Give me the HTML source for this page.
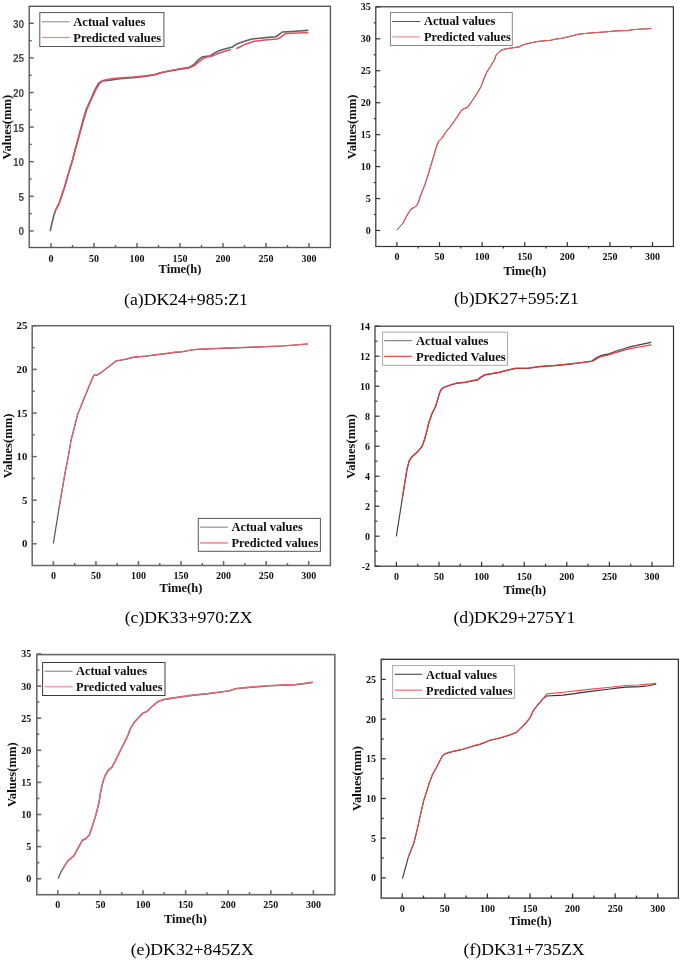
<!DOCTYPE html>
<html><head><meta charset="utf-8"><style>
html,body{margin:0;padding:0;background:#fff;}
svg{display:block;}
text{font-family:"Liberation Serif",serif;fill:#111;}
.ys{font-family:"Liberation Sans",sans-serif;font-size:10px;font-weight:bold;fill:#444;}
.yb{font-weight:bold;font-size:10px;}
.xb{font-weight:bold;font-size:10px;}
.at{font-weight:bold;font-size:12.5px;}
.vt{font-weight:bold;font-size:12.65px;}
.lg{font-weight:bold;font-size:12.55px;}
.cap{font-size:17.7px;fill:#000;}
</style></head>
<body><svg width="685" height="960" viewBox="0 0 685 960">
<defs><filter id="bl" x="0" y="0" width="100%" height="100%"><feGaussianBlur stdDeviation="0.55"/></filter></defs>
<rect width="685" height="960" fill="#fff"/>
<g filter="url(#bl)">
<rect x="29.2" y="6.3" width="301.20" height="241.20" fill="none" stroke="#5a5a5a" stroke-width="1.4"/>
<line x1="29.2" y1="230.90" x2="33.70" y2="230.90" stroke="#5a5a5a" stroke-width="1.4"/>
<text x="24" y="235.40" class="ys" text-anchor="end">0</text>
<line x1="29.2" y1="196.30" x2="33.70" y2="196.30" stroke="#5a5a5a" stroke-width="1.4"/>
<text x="24" y="200.80" class="ys" text-anchor="end">5</text>
<line x1="29.2" y1="161.70" x2="33.70" y2="161.70" stroke="#5a5a5a" stroke-width="1.4"/>
<text x="24" y="166.20" class="ys" text-anchor="end">10</text>
<line x1="29.2" y1="127.10" x2="33.70" y2="127.10" stroke="#5a5a5a" stroke-width="1.4"/>
<text x="24" y="131.60" class="ys" text-anchor="end">15</text>
<line x1="29.2" y1="92.50" x2="33.70" y2="92.50" stroke="#5a5a5a" stroke-width="1.4"/>
<text x="24" y="97.00" class="ys" text-anchor="end">20</text>
<line x1="29.2" y1="57.90" x2="33.70" y2="57.90" stroke="#5a5a5a" stroke-width="1.4"/>
<text x="24" y="62.40" class="ys" text-anchor="end">25</text>
<line x1="29.2" y1="23.30" x2="33.70" y2="23.30" stroke="#5a5a5a" stroke-width="1.4"/>
<text x="24" y="27.80" class="ys" text-anchor="end">30</text>
<line x1="29.2" y1="213.60" x2="31.70" y2="213.60" stroke="#5a5a5a" stroke-width="1.4"/>
<line x1="29.2" y1="179.00" x2="31.70" y2="179.00" stroke="#5a5a5a" stroke-width="1.4"/>
<line x1="29.2" y1="144.40" x2="31.70" y2="144.40" stroke="#5a5a5a" stroke-width="1.4"/>
<line x1="29.2" y1="109.80" x2="31.70" y2="109.80" stroke="#5a5a5a" stroke-width="1.4"/>
<line x1="29.2" y1="75.20" x2="31.70" y2="75.20" stroke="#5a5a5a" stroke-width="1.4"/>
<line x1="29.2" y1="40.60" x2="31.70" y2="40.60" stroke="#5a5a5a" stroke-width="1.4"/>
<line x1="51.00" y1="247.5" x2="51.00" y2="243.00" stroke="#5a5a5a" stroke-width="1.4"/>
<text x="51.00" y="261.6" class="xb" text-anchor="middle">0</text>
<line x1="94.00" y1="247.5" x2="94.00" y2="243.00" stroke="#5a5a5a" stroke-width="1.4"/>
<text x="94.00" y="261.6" class="xb" text-anchor="middle">50</text>
<line x1="137.00" y1="247.5" x2="137.00" y2="243.00" stroke="#5a5a5a" stroke-width="1.4"/>
<text x="137.00" y="261.6" class="xb" text-anchor="middle">100</text>
<line x1="180.00" y1="247.5" x2="180.00" y2="243.00" stroke="#5a5a5a" stroke-width="1.4"/>
<text x="180.00" y="261.6" class="xb" text-anchor="middle">150</text>
<line x1="223.00" y1="247.5" x2="223.00" y2="243.00" stroke="#5a5a5a" stroke-width="1.4"/>
<text x="223.00" y="261.6" class="xb" text-anchor="middle">200</text>
<line x1="266.00" y1="247.5" x2="266.00" y2="243.00" stroke="#5a5a5a" stroke-width="1.4"/>
<text x="266.00" y="261.6" class="xb" text-anchor="middle">250</text>
<line x1="309.00" y1="247.5" x2="309.00" y2="243.00" stroke="#5a5a5a" stroke-width="1.4"/>
<text x="309.00" y="261.6" class="xb" text-anchor="middle">300</text>
<line x1="72.50" y1="247.5" x2="72.50" y2="245.00" stroke="#5a5a5a" stroke-width="1.4"/>
<line x1="115.50" y1="247.5" x2="115.50" y2="245.00" stroke="#5a5a5a" stroke-width="1.4"/>
<line x1="158.50" y1="247.5" x2="158.50" y2="245.00" stroke="#5a5a5a" stroke-width="1.4"/>
<line x1="201.50" y1="247.5" x2="201.50" y2="245.00" stroke="#5a5a5a" stroke-width="1.4"/>
<line x1="244.50" y1="247.5" x2="244.50" y2="245.00" stroke="#5a5a5a" stroke-width="1.4"/>
<line x1="287.50" y1="247.5" x2="287.50" y2="245.00" stroke="#5a5a5a" stroke-width="1.4"/>
<text x="180" y="272.8" class="at" text-anchor="middle">Time(h)</text>
<text transform="translate(10.9,127.1) rotate(-90)" class="vt" text-anchor="middle">Values(mm)</text>
<text x="186" y="305.2" class="cap" text-anchor="middle">(a)DK24+985:Z1</text>
<polyline points="50.3,230.5 52.1,222.6 53.8,215.5 55.6,210.2 59.2,203.1 64.5,187.2 68.9,172.1 72.4,160.6 75.1,150.0 78.6,137.0 82.8,121.0 86.2,109.5 90.6,99.8 95.0,89.6 98.6,83.2 102.5,80.9 109.7,80.2 120.0,78.6 133.1,77.8 146.3,76.3 155.0,74.8 160.3,73.0 168.2,71.2 180.0,68.9 188.8,67.6 194.0,64.5 197.5,60.6 201.9,57.1 206.3,56.2 210.6,55.8 213.3,53.6 219.4,50.5 225.5,48.8 232.5,47.0 236.0,44.4 238.0,43.4 244.5,41.2 252.0,39.0 259.6,38.2 268.2,37.4 275.8,36.7 279.0,34.7 282.3,32.0 292.0,31.5 307.7,30.4" fill="none" stroke="#5c6262" stroke-width="1.6" stroke-linejoin="round" stroke-linecap="round"/>
<polyline points="55.6,210.2 59.2,203.1 64.5,187.2 68.9,172.1 72.4,160.6 75.1,150.0 78.8,137.0 83.3,121.0 86.8,109.5 91.2,99.8 95.7,90.0 99.2,83.8 102.7,80.8 107.2,79.4 113.5,78.6 120.0,78.0 133.1,77.1 146.3,75.8 155.0,74.4 160.3,72.7 168.2,71.0 180.0,69.3 188.8,68.0 194.0,65.8 197.5,62.8 202.8,58.8 207.1,57.1 211.5,56.2 216.8,54.0 223.8,51.4 230.4,49.8" fill="none" stroke="#e2505e" stroke-width="1.55" stroke-linejoin="round" stroke-linecap="round"/>
<polyline points="236.9,48.3 240.0,47.0 244.5,44.4 254.2,41.2 265.0,40.1 276.9,39.0 280.1,37.7 285.5,33.6 297.4,33.1 307.7,32.8" fill="none" stroke="#e2505e" stroke-width="1.55" stroke-linejoin="round" stroke-linecap="round"/>
<rect x="39.8" y="12.6" width="124.10" height="33.90" fill="none" stroke="#555" stroke-width="1"/>
<line x1="41.8" y1="21.7" x2="69.7" y2="21.7" stroke="#aaa" stroke-width="1.4"/>
<line x1="41.8" y1="37.5" x2="69.7" y2="37.5" stroke="#e48a96" stroke-width="1.2"/>
<text x="73.3" y="25.80" class="lg">Actual values</text>
<text x="73.3" y="41.60" class="lg">Predicted values</text>
<rect x="375.8" y="6.8" width="297.60" height="239.70" fill="none" stroke="#333" stroke-width="1.2"/>
<line x1="375.8" y1="230.50" x2="380.30" y2="230.50" stroke="#333" stroke-width="1.2"/>
<text x="370.7" y="233.90" class="yb" text-anchor="end">0</text>
<line x1="375.8" y1="198.55" x2="380.30" y2="198.55" stroke="#333" stroke-width="1.2"/>
<text x="370.7" y="201.95" class="yb" text-anchor="end">5</text>
<line x1="375.8" y1="166.60" x2="380.30" y2="166.60" stroke="#333" stroke-width="1.2"/>
<text x="370.7" y="170.00" class="yb" text-anchor="end">10</text>
<line x1="375.8" y1="134.65" x2="380.30" y2="134.65" stroke="#333" stroke-width="1.2"/>
<text x="370.7" y="138.05" class="yb" text-anchor="end">15</text>
<line x1="375.8" y1="102.70" x2="380.30" y2="102.70" stroke="#333" stroke-width="1.2"/>
<text x="370.7" y="106.10" class="yb" text-anchor="end">20</text>
<line x1="375.8" y1="70.75" x2="380.30" y2="70.75" stroke="#333" stroke-width="1.2"/>
<text x="370.7" y="74.15" class="yb" text-anchor="end">25</text>
<line x1="375.8" y1="38.80" x2="380.30" y2="38.80" stroke="#333" stroke-width="1.2"/>
<text x="370.7" y="42.20" class="yb" text-anchor="end">30</text>
<line x1="375.8" y1="6.85" x2="380.30" y2="6.85" stroke="#333" stroke-width="1.2"/>
<text x="370.7" y="10.25" class="yb" text-anchor="end">35</text>
<line x1="373.80" y1="214.53" x2="375.8" y2="214.53" stroke="#333" stroke-width="1.2"/>
<line x1="373.80" y1="182.57" x2="375.8" y2="182.57" stroke="#333" stroke-width="1.2"/>
<line x1="373.80" y1="150.62" x2="375.8" y2="150.62" stroke="#333" stroke-width="1.2"/>
<line x1="373.80" y1="118.68" x2="375.8" y2="118.68" stroke="#333" stroke-width="1.2"/>
<line x1="373.80" y1="86.72" x2="375.8" y2="86.72" stroke="#333" stroke-width="1.2"/>
<line x1="373.80" y1="54.78" x2="375.8" y2="54.78" stroke="#333" stroke-width="1.2"/>
<line x1="373.80" y1="22.83" x2="375.8" y2="22.83" stroke="#333" stroke-width="1.2"/>
<line x1="396.90" y1="246.5" x2="396.90" y2="242.00" stroke="#333" stroke-width="1.2"/>
<text x="396.90" y="259.5" class="xb" text-anchor="middle">0</text>
<line x1="439.50" y1="246.5" x2="439.50" y2="242.00" stroke="#333" stroke-width="1.2"/>
<text x="439.50" y="259.5" class="xb" text-anchor="middle">50</text>
<line x1="482.10" y1="246.5" x2="482.10" y2="242.00" stroke="#333" stroke-width="1.2"/>
<text x="482.10" y="259.5" class="xb" text-anchor="middle">100</text>
<line x1="524.70" y1="246.5" x2="524.70" y2="242.00" stroke="#333" stroke-width="1.2"/>
<text x="524.70" y="259.5" class="xb" text-anchor="middle">150</text>
<line x1="567.30" y1="246.5" x2="567.30" y2="242.00" stroke="#333" stroke-width="1.2"/>
<text x="567.30" y="259.5" class="xb" text-anchor="middle">200</text>
<line x1="609.90" y1="246.5" x2="609.90" y2="242.00" stroke="#333" stroke-width="1.2"/>
<text x="609.90" y="259.5" class="xb" text-anchor="middle">250</text>
<line x1="652.50" y1="246.5" x2="652.50" y2="242.00" stroke="#333" stroke-width="1.2"/>
<text x="652.50" y="259.5" class="xb" text-anchor="middle">300</text>
<line x1="418.20" y1="246.5" x2="418.20" y2="248.50" stroke="#333" stroke-width="1.2"/>
<line x1="460.80" y1="246.5" x2="460.80" y2="248.50" stroke="#333" stroke-width="1.2"/>
<line x1="503.40" y1="246.5" x2="503.40" y2="248.50" stroke="#333" stroke-width="1.2"/>
<line x1="546.00" y1="246.5" x2="546.00" y2="248.50" stroke="#333" stroke-width="1.2"/>
<line x1="588.60" y1="246.5" x2="588.60" y2="248.50" stroke="#333" stroke-width="1.2"/>
<line x1="631.20" y1="246.5" x2="631.20" y2="248.50" stroke="#333" stroke-width="1.2"/>
<text x="524.8" y="274.5" class="at" text-anchor="middle">Time(h)</text>
<text transform="translate(355.6,126.9) rotate(-90)" class="vt" text-anchor="middle">Values(mm)</text>
<text x="516.4" y="304.2" class="cap" text-anchor="middle">(b)DK27+595:Z1</text>
<polyline points="397.2,229.8 400.0,226.5 402.9,223.3 406.5,216.2 409.7,211.0 412.3,208.2 414.4,207.4 417.0,205.3 418.5,202.2 420.1,197.0 422.2,191.2 424.8,185.0 427.5,176.9 431.4,163.6 433.8,155.8 436.1,148.0 438.4,141.7 441.6,138.6 447.0,130.2 449.0,128.3 453.8,121.8 458.7,114.6 461.1,110.6 464.3,108.6 467.5,107.4 471.5,101.8 476.3,94.5 481.1,86.5 484.4,77.7 486.8,72.0 490.0,67.2 494.4,60.0 495.8,55.7 498.5,52.5 501.7,49.9 506.4,48.7 519.2,46.9 522.7,45.0 530.9,42.8 539.0,41.3 550.7,40.3 555.4,39.1 562.4,38.2 570.0,36.4 577.8,34.3 590.0,33.0 604.0,32.0 616.3,30.9 628.6,30.4 632.1,29.7 642.6,29.0 651.0,28.5" fill="none" stroke="#333" stroke-width="0.9" stroke-linejoin="round" stroke-linecap="round"/>
<polyline points="402.9,223.3 406.5,216.2 409.7,211.0 412.3,208.2 414.4,207.4 417.0,205.3 418.5,202.2 420.1,197.0 422.2,191.2 424.8,185.0 427.5,176.9 431.4,163.6 433.8,155.8 436.1,148.0 438.4,141.7 441.6,138.6 447.0,130.2 449.0,128.3 453.8,121.8 458.7,114.6 461.1,110.6 464.3,108.6 467.5,107.4 471.5,101.8 476.3,94.5 481.1,86.5 484.4,77.7 486.8,72.0 490.0,67.2 494.4,60.0 495.8,55.7 498.5,52.5 501.7,49.9 506.4,48.7 519.2,46.9 522.7,45.0 530.9,42.8 539.0,41.3 550.7,40.3 555.4,39.1 562.4,38.2 570.0,36.4 577.8,34.3 590.0,33.0 604.0,32.0 616.3,30.9 628.6,30.4 632.1,29.7 642.6,29.0 651.0,28.5" fill="none" stroke="#ea5a5a" stroke-width="1.15" stroke-linejoin="round" stroke-linecap="round"/>
<rect x="390.5" y="12.5" width="121.80" height="33.00" fill="none" stroke="#888" stroke-width="1"/>
<line x1="392.2" y1="21.5" x2="420" y2="21.5" stroke="#555" stroke-width="1.0"/>
<line x1="392.2" y1="36.8" x2="420" y2="36.8" stroke="#f8b0b4" stroke-width="1.8"/>
<text x="424" y="25.30" class="lg" style="font-size:12.4px">Actual values</text>
<text x="424" y="40.60" class="lg" style="font-size:12.4px">Predicted values</text>
<rect x="32.2" y="325.7" width="298.20" height="239.80" fill="none" stroke="#666" stroke-width="1.5"/>
<line x1="32.2" y1="543.80" x2="36.70" y2="543.80" stroke="#666" stroke-width="1.5"/>
<text x="27.4" y="547.47" class="yb" text-anchor="end" style="font-size:10.8px">0</text>
<line x1="32.2" y1="500.20" x2="36.70" y2="500.20" stroke="#666" stroke-width="1.5"/>
<text x="27.4" y="503.87" class="yb" text-anchor="end" style="font-size:10.8px">5</text>
<line x1="32.2" y1="456.60" x2="36.70" y2="456.60" stroke="#666" stroke-width="1.5"/>
<text x="27.4" y="460.27" class="yb" text-anchor="end" style="font-size:10.8px">10</text>
<line x1="32.2" y1="413.00" x2="36.70" y2="413.00" stroke="#666" stroke-width="1.5"/>
<text x="27.4" y="416.67" class="yb" text-anchor="end" style="font-size:10.8px">15</text>
<line x1="32.2" y1="369.40" x2="36.70" y2="369.40" stroke="#666" stroke-width="1.5"/>
<text x="27.4" y="373.07" class="yb" text-anchor="end" style="font-size:10.8px">20</text>
<line x1="32.2" y1="325.80" x2="36.70" y2="325.80" stroke="#666" stroke-width="1.5"/>
<text x="27.4" y="329.47" class="yb" text-anchor="end" style="font-size:10.8px">25</text>
<line x1="32.2" y1="522.00" x2="34.70" y2="522.00" stroke="#666" stroke-width="1.5"/>
<line x1="32.2" y1="478.40" x2="34.70" y2="478.40" stroke="#666" stroke-width="1.5"/>
<line x1="32.2" y1="434.80" x2="34.70" y2="434.80" stroke="#666" stroke-width="1.5"/>
<line x1="32.2" y1="391.20" x2="34.70" y2="391.20" stroke="#666" stroke-width="1.5"/>
<line x1="32.2" y1="347.60" x2="34.70" y2="347.60" stroke="#666" stroke-width="1.5"/>
<line x1="53.40" y1="565.5" x2="53.40" y2="561.00" stroke="#666" stroke-width="1.5"/>
<text x="53.40" y="578.9" class="xb" text-anchor="middle">0</text>
<line x1="95.95" y1="565.5" x2="95.95" y2="561.00" stroke="#666" stroke-width="1.5"/>
<text x="95.95" y="578.9" class="xb" text-anchor="middle">50</text>
<line x1="138.50" y1="565.5" x2="138.50" y2="561.00" stroke="#666" stroke-width="1.5"/>
<text x="138.50" y="578.9" class="xb" text-anchor="middle">100</text>
<line x1="181.05" y1="565.5" x2="181.05" y2="561.00" stroke="#666" stroke-width="1.5"/>
<text x="181.05" y="578.9" class="xb" text-anchor="middle">150</text>
<line x1="223.60" y1="565.5" x2="223.60" y2="561.00" stroke="#666" stroke-width="1.5"/>
<text x="223.60" y="578.9" class="xb" text-anchor="middle">200</text>
<line x1="266.15" y1="565.5" x2="266.15" y2="561.00" stroke="#666" stroke-width="1.5"/>
<text x="266.15" y="578.9" class="xb" text-anchor="middle">250</text>
<line x1="308.70" y1="565.5" x2="308.70" y2="561.00" stroke="#666" stroke-width="1.5"/>
<text x="308.70" y="578.9" class="xb" text-anchor="middle">300</text>
<line x1="74.67" y1="565.5" x2="74.67" y2="563.00" stroke="#666" stroke-width="1.5"/>
<line x1="117.22" y1="565.5" x2="117.22" y2="563.00" stroke="#666" stroke-width="1.5"/>
<line x1="159.78" y1="565.5" x2="159.78" y2="563.00" stroke="#666" stroke-width="1.5"/>
<line x1="202.32" y1="565.5" x2="202.32" y2="563.00" stroke="#666" stroke-width="1.5"/>
<line x1="244.88" y1="565.5" x2="244.88" y2="563.00" stroke="#666" stroke-width="1.5"/>
<line x1="287.43" y1="565.5" x2="287.43" y2="563.00" stroke="#666" stroke-width="1.5"/>
<text x="181" y="591.9" class="at" text-anchor="middle">Time(h)</text>
<text transform="translate(11.5,445.9) rotate(-90)" class="vt" text-anchor="middle">Values(mm)</text>
<text x="188.6" y="623" class="cap" text-anchor="middle">(c)DK33+970:ZX</text>
<polyline points="53.4,543.0 59.2,507.1 64.9,473.9 68.2,457.1 71.1,440.2 74.8,425.8 77.6,414.6 79.5,409.9 83.7,399.6 89.4,385.5 93.6,375.7 95.0,374.7 96.9,375.2 101.5,372.4 110.0,365.8 116.2,361.0 125.4,359.3 133.6,357.3 145.9,356.2 156.1,354.9 166.3,353.6 175.0,352.4 181.7,351.8 186.5,351.0 191.0,350.0 199.0,349.3 210.0,348.8 222.6,348.3 250.0,347.3 256.3,347.1 282.6,346.0 295.7,345.0 307.5,344.0" fill="none" stroke="#555" stroke-width="1.2" stroke-linejoin="round" stroke-linecap="round"/>
<polyline points="59.2,506.9 64.9,473.7 68.2,456.9 71.1,440.0 74.8,425.6 77.6,414.4 79.5,409.7 83.7,399.4 89.4,385.3 93.6,375.5 95.0,374.5 96.9,375.0 101.5,372.2 110.0,365.6 116.2,360.8 125.4,359.1 133.6,357.1 145.9,356.0 156.1,354.7 166.3,353.4 175.0,352.2 181.7,351.6 186.5,350.8 191.0,349.8 199.0,349.1 210.0,348.6 222.6,348.1 250.0,347.1 256.3,346.9 282.6,345.8 295.7,344.8 307.5,343.8" fill="none" stroke="#e8606c" stroke-width="1.2" stroke-linejoin="round" stroke-linecap="round"/>
<rect x="198.3" y="518.4" width="122.10" height="32.90" fill="none" stroke="#555" stroke-width="1"/>
<line x1="200.1" y1="527.2" x2="227.9" y2="527.2" stroke="#999" stroke-width="1.3"/>
<line x1="200.1" y1="542.9" x2="227.9" y2="542.9" stroke="#f0a0a8" stroke-width="2"/>
<text x="231.5" y="531.15" class="lg" style="font-size:12.4px">Actual values</text>
<text x="231.5" y="546.85" class="lg" style="font-size:12.4px">Predicted values</text>
<rect x="375" y="326.2" width="298.50" height="240.00" fill="none" stroke="#333" stroke-width="1.2"/>
<line x1="375" y1="566.20" x2="379.50" y2="566.20" stroke="#333" stroke-width="1.2"/>
<text x="370" y="569.60" class="yb" text-anchor="end">-2</text>
<line x1="375" y1="536.20" x2="379.50" y2="536.20" stroke="#333" stroke-width="1.2"/>
<text x="370" y="539.60" class="yb" text-anchor="end">0</text>
<line x1="375" y1="506.20" x2="379.50" y2="506.20" stroke="#333" stroke-width="1.2"/>
<text x="370" y="509.60" class="yb" text-anchor="end">2</text>
<line x1="375" y1="476.20" x2="379.50" y2="476.20" stroke="#333" stroke-width="1.2"/>
<text x="370" y="479.60" class="yb" text-anchor="end">4</text>
<line x1="375" y1="446.20" x2="379.50" y2="446.20" stroke="#333" stroke-width="1.2"/>
<text x="370" y="449.60" class="yb" text-anchor="end">6</text>
<line x1="375" y1="416.20" x2="379.50" y2="416.20" stroke="#333" stroke-width="1.2"/>
<text x="370" y="419.60" class="yb" text-anchor="end">8</text>
<line x1="375" y1="386.20" x2="379.50" y2="386.20" stroke="#333" stroke-width="1.2"/>
<text x="370" y="389.60" class="yb" text-anchor="end">10</text>
<line x1="375" y1="356.20" x2="379.50" y2="356.20" stroke="#333" stroke-width="1.2"/>
<text x="370" y="359.60" class="yb" text-anchor="end">12</text>
<line x1="375" y1="326.20" x2="379.50" y2="326.20" stroke="#333" stroke-width="1.2"/>
<text x="370" y="329.60" class="yb" text-anchor="end">14</text>
<line x1="375" y1="551.20" x2="377.50" y2="551.20" stroke="#333" stroke-width="1.2"/>
<line x1="375" y1="521.20" x2="377.50" y2="521.20" stroke="#333" stroke-width="1.2"/>
<line x1="375" y1="491.20" x2="377.50" y2="491.20" stroke="#333" stroke-width="1.2"/>
<line x1="375" y1="461.20" x2="377.50" y2="461.20" stroke="#333" stroke-width="1.2"/>
<line x1="375" y1="431.20" x2="377.50" y2="431.20" stroke="#333" stroke-width="1.2"/>
<line x1="375" y1="401.20" x2="377.50" y2="401.20" stroke="#333" stroke-width="1.2"/>
<line x1="375" y1="371.20" x2="377.50" y2="371.20" stroke="#333" stroke-width="1.2"/>
<line x1="375" y1="341.20" x2="377.50" y2="341.20" stroke="#333" stroke-width="1.2"/>
<line x1="396.40" y1="566.2" x2="396.40" y2="561.70" stroke="#333" stroke-width="1.2"/>
<text x="396.40" y="579.7" class="xb" text-anchor="middle">0</text>
<line x1="439.00" y1="566.2" x2="439.00" y2="561.70" stroke="#333" stroke-width="1.2"/>
<text x="439.00" y="579.7" class="xb" text-anchor="middle">50</text>
<line x1="481.60" y1="566.2" x2="481.60" y2="561.70" stroke="#333" stroke-width="1.2"/>
<text x="481.60" y="579.7" class="xb" text-anchor="middle">100</text>
<line x1="524.20" y1="566.2" x2="524.20" y2="561.70" stroke="#333" stroke-width="1.2"/>
<text x="524.20" y="579.7" class="xb" text-anchor="middle">150</text>
<line x1="566.80" y1="566.2" x2="566.80" y2="561.70" stroke="#333" stroke-width="1.2"/>
<text x="566.80" y="579.7" class="xb" text-anchor="middle">200</text>
<line x1="609.40" y1="566.2" x2="609.40" y2="561.70" stroke="#333" stroke-width="1.2"/>
<text x="609.40" y="579.7" class="xb" text-anchor="middle">250</text>
<line x1="652.00" y1="566.2" x2="652.00" y2="561.70" stroke="#333" stroke-width="1.2"/>
<text x="652.00" y="579.7" class="xb" text-anchor="middle">300</text>
<line x1="417.70" y1="566.2" x2="417.70" y2="563.70" stroke="#333" stroke-width="1.2"/>
<line x1="460.30" y1="566.2" x2="460.30" y2="563.70" stroke="#333" stroke-width="1.2"/>
<line x1="502.90" y1="566.2" x2="502.90" y2="563.70" stroke="#333" stroke-width="1.2"/>
<line x1="545.50" y1="566.2" x2="545.50" y2="563.70" stroke="#333" stroke-width="1.2"/>
<line x1="588.10" y1="566.2" x2="588.10" y2="563.70" stroke="#333" stroke-width="1.2"/>
<line x1="630.70" y1="566.2" x2="630.70" y2="563.70" stroke="#333" stroke-width="1.2"/>
<text x="524.8" y="594.4" class="at" text-anchor="middle">Time(h)</text>
<text transform="translate(354.6,446.4) rotate(-90)" class="vt" text-anchor="middle">Values(mm)</text>
<text x="514.4" y="623" class="cap" text-anchor="middle">(d)DK29+275Y1</text>
<polyline points="396.4,536.0 402.4,497.9 405.3,479.6 407.0,469.3 409.3,460.7 412.2,456.7 416.8,452.6 421.9,446.9 424.2,440.6 427.1,430.3 428.8,422.8 431.9,414.1 435.6,406.6 437.5,400.3 439.4,393.4 441.3,389.4 443.8,387.5 450.0,385.3 456.3,383.4 465.0,382.5 477.5,379.9 481.5,376.9 485.1,374.9 498.5,372.6 512.6,369.1 516.1,368.5 527.7,368.5 540.0,366.7 555.0,365.7 572.5,363.9 591.8,361.0 597.0,357.2 602.3,355.1 607.6,354.2 616.3,351.0 628.6,347.2 639.1,344.9 651.0,342.3" fill="none" stroke="#444" stroke-width="1.2" stroke-linejoin="round" stroke-linecap="round"/>
<polyline points="402.4,497.6 405.3,479.3 407.0,469.0 409.3,460.4 412.2,456.4 416.8,452.3 421.9,446.6 424.2,440.3 427.1,430.0 428.8,422.5 431.9,413.8 435.6,406.3 437.5,400.0 439.4,393.1 441.3,389.1 443.8,387.2 450.0,385.0 456.3,383.1 465.0,382.2 477.5,379.6 481.5,376.6 485.1,374.6 498.5,372.3 512.6,368.8 516.1,368.2 527.7,368.2 540.0,366.4 555.0,365.4 572.5,363.6 591.8,361.5 595.3,359.8 600.6,356.6 607.6,355.1 616.3,352.4 628.6,348.9 639.1,347.0 651.0,344.9" fill="none" stroke="#e83535" stroke-width="1.2" stroke-linejoin="round" stroke-linecap="round"/>
<rect x="382.6" y="332.2" width="125.00" height="33.10" fill="none" stroke="#aaa" stroke-width="1"/>
<line x1="384.2" y1="340.6" x2="411.8" y2="340.6" stroke="#888" stroke-width="1.3"/>
<line x1="384.2" y1="356.4" x2="411.8" y2="356.4" stroke="#f05050" stroke-width="1.3"/>
<text x="416" y="345.10" class="lg" style="font-size:12.6px">Actual values</text>
<text x="416" y="360.90" class="lg" style="font-size:12.6px">Predicted Values</text>
<rect x="36.8" y="654.6" width="298.00" height="240.10" fill="none" stroke="#6a6a6a" stroke-width="1.6"/>
<line x1="36.8" y1="878.70" x2="41.30" y2="878.70" stroke="#6a6a6a" stroke-width="1.6"/>
<text x="31.2" y="882.10" class="yb" text-anchor="end">0</text>
<line x1="36.8" y1="846.60" x2="41.30" y2="846.60" stroke="#6a6a6a" stroke-width="1.6"/>
<text x="31.2" y="850.00" class="yb" text-anchor="end">5</text>
<line x1="36.8" y1="814.50" x2="41.30" y2="814.50" stroke="#6a6a6a" stroke-width="1.6"/>
<text x="31.2" y="817.90" class="yb" text-anchor="end">10</text>
<line x1="36.8" y1="782.40" x2="41.30" y2="782.40" stroke="#6a6a6a" stroke-width="1.6"/>
<text x="31.2" y="785.80" class="yb" text-anchor="end">15</text>
<line x1="36.8" y1="750.30" x2="41.30" y2="750.30" stroke="#6a6a6a" stroke-width="1.6"/>
<text x="31.2" y="753.70" class="yb" text-anchor="end">20</text>
<line x1="36.8" y1="718.20" x2="41.30" y2="718.20" stroke="#6a6a6a" stroke-width="1.6"/>
<text x="31.2" y="721.60" class="yb" text-anchor="end">25</text>
<line x1="36.8" y1="686.10" x2="41.30" y2="686.10" stroke="#6a6a6a" stroke-width="1.6"/>
<text x="31.2" y="689.50" class="yb" text-anchor="end">30</text>
<line x1="36.8" y1="654.00" x2="41.30" y2="654.00" stroke="#6a6a6a" stroke-width="1.6"/>
<text x="31.2" y="657.40" class="yb" text-anchor="end">35</text>
<line x1="36.8" y1="862.65" x2="39.30" y2="862.65" stroke="#6a6a6a" stroke-width="1.6"/>
<line x1="36.8" y1="830.55" x2="39.30" y2="830.55" stroke="#6a6a6a" stroke-width="1.6"/>
<line x1="36.8" y1="798.45" x2="39.30" y2="798.45" stroke="#6a6a6a" stroke-width="1.6"/>
<line x1="36.8" y1="766.35" x2="39.30" y2="766.35" stroke="#6a6a6a" stroke-width="1.6"/>
<line x1="36.8" y1="734.25" x2="39.30" y2="734.25" stroke="#6a6a6a" stroke-width="1.6"/>
<line x1="36.8" y1="702.15" x2="39.30" y2="702.15" stroke="#6a6a6a" stroke-width="1.6"/>
<line x1="36.8" y1="670.05" x2="39.30" y2="670.05" stroke="#6a6a6a" stroke-width="1.6"/>
<line x1="57.80" y1="894.7" x2="57.80" y2="890.20" stroke="#6a6a6a" stroke-width="1.6"/>
<text x="57.80" y="907.6" class="xb" text-anchor="middle">0</text>
<line x1="100.40" y1="894.7" x2="100.40" y2="890.20" stroke="#6a6a6a" stroke-width="1.6"/>
<text x="100.40" y="907.6" class="xb" text-anchor="middle">50</text>
<line x1="143.00" y1="894.7" x2="143.00" y2="890.20" stroke="#6a6a6a" stroke-width="1.6"/>
<text x="143.00" y="907.6" class="xb" text-anchor="middle">100</text>
<line x1="185.60" y1="894.7" x2="185.60" y2="890.20" stroke="#6a6a6a" stroke-width="1.6"/>
<text x="185.60" y="907.6" class="xb" text-anchor="middle">150</text>
<line x1="228.20" y1="894.7" x2="228.20" y2="890.20" stroke="#6a6a6a" stroke-width="1.6"/>
<text x="228.20" y="907.6" class="xb" text-anchor="middle">200</text>
<line x1="270.80" y1="894.7" x2="270.80" y2="890.20" stroke="#6a6a6a" stroke-width="1.6"/>
<text x="270.80" y="907.6" class="xb" text-anchor="middle">250</text>
<line x1="313.40" y1="894.7" x2="313.40" y2="890.20" stroke="#6a6a6a" stroke-width="1.6"/>
<text x="313.40" y="907.6" class="xb" text-anchor="middle">300</text>
<line x1="79.10" y1="894.7" x2="79.10" y2="892.20" stroke="#6a6a6a" stroke-width="1.6"/>
<line x1="121.70" y1="894.7" x2="121.70" y2="892.20" stroke="#6a6a6a" stroke-width="1.6"/>
<line x1="164.30" y1="894.7" x2="164.30" y2="892.20" stroke="#6a6a6a" stroke-width="1.6"/>
<line x1="206.90" y1="894.7" x2="206.90" y2="892.20" stroke="#6a6a6a" stroke-width="1.6"/>
<line x1="249.50" y1="894.7" x2="249.50" y2="892.20" stroke="#6a6a6a" stroke-width="1.6"/>
<line x1="292.10" y1="894.7" x2="292.10" y2="892.20" stroke="#6a6a6a" stroke-width="1.6"/>
<text x="185.4" y="922.6" class="at" text-anchor="middle">Time(h)</text>
<text transform="translate(16.1,774.7) rotate(-90)" class="vt" text-anchor="middle">Values(mm)</text>
<text x="192.2" y="955" class="cap" text-anchor="middle">(e)DK32+845ZX</text>
<polyline points="58.4,878.2 61.0,871.8 63.5,867.8 67.8,861.0 73.8,855.9 78.1,848.2 82.4,840.5 85.8,838.8 89.2,835.3 91.8,827.7 95.2,817.4 97.7,808.0 99.4,800.3 100.6,792.2 103.0,781.8 105.3,775.3 108.1,770.6 111.9,767.3 114.7,762.2 118.4,754.7 123.1,745.3 127.3,736.9 130.6,728.4 134.4,722.3 138.8,717.5 143.1,713.1 146.8,711.7 151.9,706.8 158.4,701.4 164.2,699.5 178.8,697.3 193.4,695.3 208.0,693.8 222.6,691.9 229.8,690.9 235.0,688.9 243.1,688.0 257.1,686.8 269.4,685.9 282.0,685.3 295.7,684.8 303.6,683.7 312.1,682.5" fill="none" stroke="#666" stroke-width="1.4" stroke-linejoin="round" stroke-linecap="round"/>
<polyline points="63.5,867.5 67.8,860.7 73.8,855.6 78.1,847.9 82.4,840.2 85.8,838.5 89.2,835.0 91.8,827.4 95.2,817.1 97.7,807.7 99.4,800.0 100.6,791.9 103.0,781.5 105.3,775.0 108.1,770.3 111.9,767.0 114.7,761.9 118.4,754.4 123.1,745.0 127.3,736.6 130.6,728.1 134.4,722.0 138.8,717.2 143.1,712.8 146.8,711.4 151.9,706.5 158.4,701.1 164.2,699.2 178.8,697.0 193.4,695.0 208.0,693.5 222.6,691.6 229.8,690.6 235.0,688.6 243.1,687.7 257.1,686.5 269.4,685.6 282.0,685.0 295.7,684.5 303.6,683.4 312.1,682.2" fill="none" stroke="#e46874" stroke-width="1.4" stroke-linejoin="round" stroke-linecap="round"/>
<rect x="42.6" y="662.5" width="122.40" height="33.00" fill="none" stroke="#3a3a3a" stroke-width="1"/>
<line x1="44.6" y1="671.3" x2="72.5" y2="671.3" stroke="#999" stroke-width="1.3"/>
<line x1="44.6" y1="686.7" x2="72.5" y2="686.7" stroke="#f0a0a8" stroke-width="1.6"/>
<text x="76" y="675.40" class="lg" style="font-size:12.35px">Actual values</text>
<text x="76" y="690.80" class="lg" style="font-size:12.35px">Predicted values</text>
<rect x="381.2" y="659.3" width="297.20" height="238.80" fill="none" stroke="#333" stroke-width="1.3"/>
<line x1="381.2" y1="877.90" x2="385.70" y2="877.90" stroke="#333" stroke-width="1.3"/>
<text x="375.9" y="881.30" class="yb" text-anchor="end">0</text>
<line x1="381.2" y1="838.20" x2="385.70" y2="838.20" stroke="#333" stroke-width="1.3"/>
<text x="375.9" y="841.60" class="yb" text-anchor="end">5</text>
<line x1="381.2" y1="798.50" x2="385.70" y2="798.50" stroke="#333" stroke-width="1.3"/>
<text x="375.9" y="801.90" class="yb" text-anchor="end">10</text>
<line x1="381.2" y1="758.80" x2="385.70" y2="758.80" stroke="#333" stroke-width="1.3"/>
<text x="375.9" y="762.20" class="yb" text-anchor="end">15</text>
<line x1="381.2" y1="719.10" x2="385.70" y2="719.10" stroke="#333" stroke-width="1.3"/>
<text x="375.9" y="722.50" class="yb" text-anchor="end">20</text>
<line x1="381.2" y1="679.40" x2="385.70" y2="679.40" stroke="#333" stroke-width="1.3"/>
<text x="375.9" y="682.80" class="yb" text-anchor="end">25</text>
<line x1="381.2" y1="858.05" x2="383.70" y2="858.05" stroke="#333" stroke-width="1.3"/>
<line x1="381.2" y1="818.35" x2="383.70" y2="818.35" stroke="#333" stroke-width="1.3"/>
<line x1="381.2" y1="778.65" x2="383.70" y2="778.65" stroke="#333" stroke-width="1.3"/>
<line x1="381.2" y1="738.95" x2="383.70" y2="738.95" stroke="#333" stroke-width="1.3"/>
<line x1="381.2" y1="699.25" x2="383.70" y2="699.25" stroke="#333" stroke-width="1.3"/>
<line x1="381.2" y1="659.55" x2="383.70" y2="659.55" stroke="#333" stroke-width="1.3"/>
<line x1="402.20" y1="898.1" x2="402.20" y2="893.60" stroke="#333" stroke-width="1.3"/>
<text x="402.20" y="911.5" class="xb" text-anchor="middle">0</text>
<line x1="444.80" y1="898.1" x2="444.80" y2="893.60" stroke="#333" stroke-width="1.3"/>
<text x="444.80" y="911.5" class="xb" text-anchor="middle">50</text>
<line x1="487.40" y1="898.1" x2="487.40" y2="893.60" stroke="#333" stroke-width="1.3"/>
<text x="487.40" y="911.5" class="xb" text-anchor="middle">100</text>
<line x1="530.00" y1="898.1" x2="530.00" y2="893.60" stroke="#333" stroke-width="1.3"/>
<text x="530.00" y="911.5" class="xb" text-anchor="middle">150</text>
<line x1="572.60" y1="898.1" x2="572.60" y2="893.60" stroke="#333" stroke-width="1.3"/>
<text x="572.60" y="911.5" class="xb" text-anchor="middle">200</text>
<line x1="615.20" y1="898.1" x2="615.20" y2="893.60" stroke="#333" stroke-width="1.3"/>
<text x="615.20" y="911.5" class="xb" text-anchor="middle">250</text>
<line x1="657.80" y1="898.1" x2="657.80" y2="893.60" stroke="#333" stroke-width="1.3"/>
<text x="657.80" y="911.5" class="xb" text-anchor="middle">300</text>
<line x1="423.50" y1="898.1" x2="423.50" y2="895.60" stroke="#333" stroke-width="1.3"/>
<line x1="466.10" y1="898.1" x2="466.10" y2="895.60" stroke="#333" stroke-width="1.3"/>
<line x1="508.70" y1="898.1" x2="508.70" y2="895.60" stroke="#333" stroke-width="1.3"/>
<line x1="551.30" y1="898.1" x2="551.30" y2="895.60" stroke="#333" stroke-width="1.3"/>
<line x1="593.90" y1="898.1" x2="593.90" y2="895.60" stroke="#333" stroke-width="1.3"/>
<line x1="636.50" y1="898.1" x2="636.50" y2="895.60" stroke="#333" stroke-width="1.3"/>
<text x="530.3" y="925.1" class="at" text-anchor="middle">Time(h)</text>
<text transform="translate(360.6,778.5) rotate(-90)" class="vt" text-anchor="middle">Values(mm)</text>
<text x="524" y="954.8" class="cap" text-anchor="middle">(f)DK31+735ZX</text>
<polyline points="402.6,878.2 408.3,857.3 413.9,843.0 416.9,830.9 419.9,817.3 423.7,800.7 425.9,794.0 428.9,784.3 432.4,774.7 436.4,767.7 439.9,760.7 442.5,755.9 445.1,753.9 451.3,751.9 463.5,749.3 468.8,747.6 475.0,745.6 480.0,744.4 490.2,740.3 500.4,738.0 510.6,734.7 516.8,732.2 520.9,728.1 526.0,723.0 530.0,717.9 533.3,710.7 538.4,704.2 542.8,699.1 546.4,696.0 563.4,695.1 586.7,691.9 610.1,689.0 616.4,688.1 626.1,687.1 640.5,686.6 648.6,685.7 655.8,684.2" fill="none" stroke="#333" stroke-width="1.1" stroke-linejoin="round" stroke-linecap="round"/>
<polyline points="408.3,857.0 413.9,842.7 416.9,830.6 419.9,817.0 423.7,800.4 425.9,793.7 428.9,784.0 432.4,774.4 436.4,767.4 439.9,760.4 442.5,755.6 445.1,753.6 451.3,751.6 463.5,749.0 468.8,747.3 475.0,745.3 480.0,744.1 490.2,740.0 500.4,737.7 510.6,734.4 516.8,731.9 520.9,727.8 526.0,722.7 530.0,717.6 533.3,710.4 538.4,703.9 542.8,698.8 547.0,693.9 563.4,692.3 586.7,689.6 610.1,687.3 616.4,686.5 626.1,685.5 638.1,685.0 646.1,684.4 655.8,683.4" fill="none" stroke="#f04a4a" stroke-width="1.1" stroke-linejoin="round" stroke-linecap="round"/>
<rect x="392.6" y="665.6" width="122.00" height="32.80" fill="none" stroke="#aaa" stroke-width="1"/>
<line x1="394.6" y1="674.3" x2="422.2" y2="674.3" stroke="#555" stroke-width="1.2"/>
<line x1="394.6" y1="690.2" x2="422.2" y2="690.2" stroke="#f58a8a" stroke-width="1.5"/>
<text x="426.1" y="678.70" class="lg" style="font-size:12.35px">Actual values</text>
<text x="426.1" y="694.60" class="lg" style="font-size:12.35px">Predicted values</text>
</g>
</svg></body></html>
